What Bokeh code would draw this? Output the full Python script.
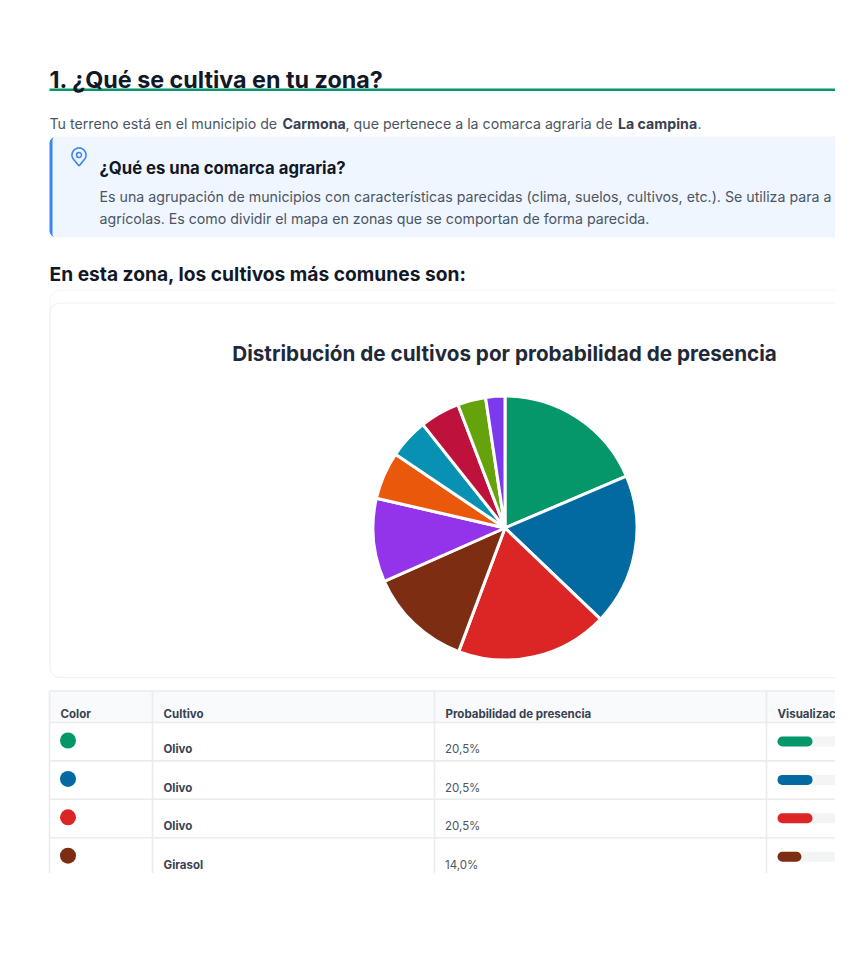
from math import pi
import numpy as np
from bokeh.plotting import figure
from bokeh.models import Range1d
from bokeh.core.properties import value
from bokeh.embed import file_html
from bokeh.resources import INLINE

# Pie data: share of each crop slice
slice_values = [20.5, 20.5, 20.5, 14.0, 11.3, 6.4, 5.4, 5.4, 3.8, 2.6]
slice_colors = ["#059669", "#0369a1", "#dc2626", "#7c2d12", "#9333ea",
                "#ea580c", "#0891b2", "#be123c", "#65a30d", "#7c3aed"]

# Table data
table_headers = ["Color", "Cultivo", "Probabilidad de presencia", "Visualizac"]
table_crops = ["Olivo", "Olivo", "Olivo", "Girasol"]
table_probs = [20.5, 20.5, 20.5, 14.0]
table_colors = ["#059669", "#0369a1", "#dc2626", "#7c2d12"]

FONT = value("Inter")
DARK, BODY, SOFT = "#111827", "#374151", "#4b5563"
H = 873  # frame height used to flip top-down layout positions

def Y(v):
    return H - np.asarray(v, dtype=float)

p = figure(width=835, height=873, x_range=Range1d(0, 835), y_range=Range1d(0, H),
           output_backend="svg", toolbar_location=None, min_border=0,
           x_axis_location=None, y_axis_location=None, outline_line_color=None,
           background_fill_color="white", border_fill_color="white")
p.grid.visible = False

def txt(x, y, s, size, color, bold=False, align="left"):
    p.text([x], [float(Y(y - 0.4 * size))], text=[s], text_font=FONT, text_font_size=f"{size}px",
           text_color=color, text_font_style="bold" if bold else "normal",
           text_align=align, text_baseline="alphabetic")

def box(l, r, top, bottom, fill, line=None, radius=0, lw=1):
    p.quad(left=[l], right=[r], top=[float(Y(top))], bottom=[float(Y(bottom))], fill_color=fill,
           line_color=line, line_width=lw, border_radius=radius)

# Section heading
box(49, 835, 88, 90.5, "#059669")
txt(49, 88, "1. ¿Qué se cultiva en tu zona?", 23.3, DARK, True)

# Intro paragraph
txt(49, 129, "Tu terreno está en el municipio de ", 14.2, SOFT)
txt(282, 129, "Carmona", 14.2, BODY, True)
txt(345, 129, ", que pertenece a la comarca agraria de ", 14.2, SOFT)
txt(617.5, 129, "La campina", 14.2, BODY, True)
txt(697, 129, ".", 14.2, SOFT)

# Callout
box(49, 62, 136.4, 236.6, "#3b82f6", radius=6)
box(52, 900, 136, 237, "#eff6ff", radius=4)
t = np.linspace(-0.28 * pi, 1.28 * pi, 40)
px = np.concatenate([[78.5], 78.5 + 7 * np.cos(t), [78.5]])
py = np.concatenate([[165.5], 154.5 - 7 * np.sin(t), [165.5]])
p.line(px, Y(py), line_color="#3b82f6", line_width=1.6)
p.scatter([78.5], [float(Y(154.5))], size=5, marker="circle", fill_color=None,
          line_color="#3b82f6", line_width=1.5)
txt(99, 174, "¿Qué es una comarca agraria?", 16.7, DARK, True)
txt(99, 202, "Es una agrupación de municipios con características parecidas (clima, suelos, cultivos, etc.). Se utiliza para a", 14.2, SOFT)
txt(99, 224, "agrícolas. Es como dividir el mapa en zonas que se comportan de forma parecida.", 14.2, SOFT)

# Sub heading
txt(49, 281, "En esta zona, los cultivos más comunes son:", 19.2, DARK, True)

# Chart cards
box(49.5, 900, 289.5, 677, "white", "#f3f4f6", radius=10)
box(49.5, 900, 302.5, 677, "white", "#eef0f3", radius=10)
txt(504, 361, "Distribución de cultivos por probabilidad de presencia", 20.7, "#1f2937", True, "center")

# Pie
vals = np.array(slice_values)
edges = np.concatenate([[0], np.cumsum(vals)]) / vals.sum() * 2 * pi
p.wedge(x=[504.5] * len(vals), y=[float(Y(527.5))] * len(vals), radius=132,
        start_angle=pi / 2 - edges[:-1], end_angle=pi / 2 - edges[1:], direction="clock",
        fill_color=slice_colors, line_color="white", line_width=3)

# Table
col_x = [49, 152, 434, 766]
row_h = 38.4
table_top, head_bottom = 690.5, 722
rows_y = [head_bottom + row_h * i for i in range(len(table_crops) + 1)]
box(49.5, 900, table_top, head_bottom, "#f9fafb")
for y in [table_top] + rows_y:
    p.line([49.5, 835], [float(Y(y))] * 2, line_color="#e9ebef", line_width=1.6)
for x in col_x:
    p.line([x, x], [float(Y(table_top)), float(Y(880))], line_color="#e9ebef", line_width=1.6)
for x, h in zip(col_x, table_headers):
    txt(x + 11, 718, h, 11.5, BODY, True)
for i, (crop, prob, color) in enumerate(zip(table_crops, table_probs, table_colors)):
    top = rows_y[i]
    p.scatter([67.5], [float(Y(top + 18))], size=16, marker="circle", fill_color=color, line_color=None)
    txt(163, top + 31.5, crop, 11.5, BODY, True)
    txt(444.5, top + 31.5, f"{prob:.1f}%".replace(".", ","), 11.5, SOFT)
    box(777, 777 + 171, top + 14, top + 24, "#f3f4f6", radius=5)
    box(777, 777 + prob * 1.71, top + 14, top + 24, color, radius=5)

open("out.html", "w").write(file_html(p, INLINE))
